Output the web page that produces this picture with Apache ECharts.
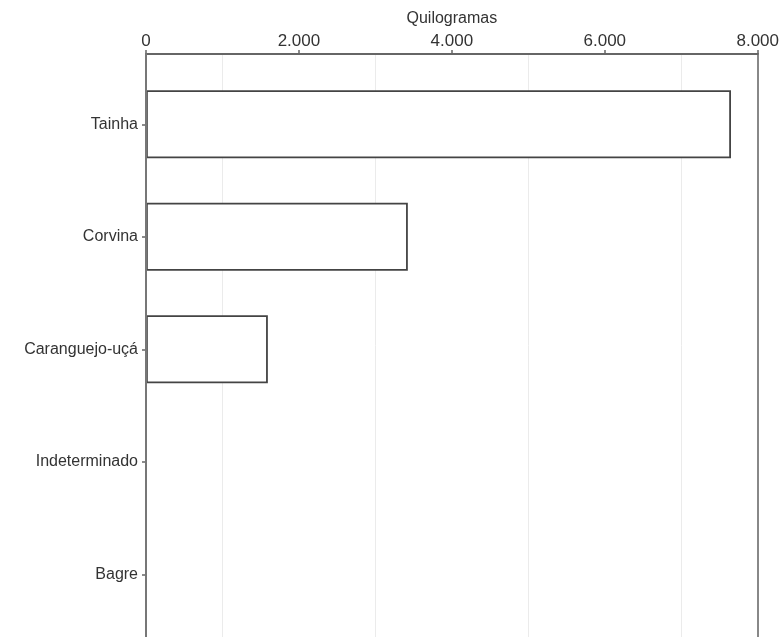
<!DOCTYPE html>
<html>
<head>
<meta charset="utf-8">
<script src="https://cdn.jsdelivr.net/npm/echarts@6/dist/echarts.min.js"></script>
<style>html,body{margin:0;padding:0;background:#fff;overflow:hidden}#c{width:782px;height:637px}</style>
</head>
<body>
<div id="c"></div>
<script>
const categories = ['Tainha', 'Corvina', 'Caranguejo-uçá', 'Indeterminado', 'Bagre'];
const values = [7585, 3395, 1580, 0, 0];
const axisTitle = 'Quilogramas';

function fmt(v) { return String(v).replace(/\B(?=(\d{3})+(?!\d))/g, '.'); }

const chart = echarts.init(document.getElementById('c'), null, { renderer: 'canvas' });
const font = 'Liberation Sans, Arial, sans-serif';
chart.setOption({
  animation: false,
  backgroundColor: '#fff',
  grid: [
    { left: 146, right: 19, top: 54, bottom: -5, containLabel: false },
    { left: 146, right: 19, top: 68, height: 562.5, containLabel: false }
  ],
  xAxis: [
    {
      gridIndex: 0, type: 'value', position: 'top', min: 0, max: 8000, interval: 2000,
      name: axisTitle, nameLocation: 'middle', nameGap: 27,
      nameTextStyle: { fontFamily: font, fontSize: 16, color: '#333' },
      axisLine: { show: true, onZero: false, lineStyle: { color: '#666', width: 2 } },
      axisTick: { show: true, length: 4, lineStyle: { color: '#666', width: 1.5 } },
      axisLabel: { fontFamily: font, fontSize: 17, color: '#333', margin: 4, formatter: v => fmt(v) },
      splitLine: { show: false },
      minorTick: { show: false, splitNumber: 2 },
      minorSplitLine: { show: true, lineStyle: { color: '#ebebeb', width: 1 } }
    },
    { gridIndex: 1, type: 'value', min: 0, max: 8000, show: false }
  ],
  yAxis: [
    {
      gridIndex: 0, type: 'value', min: 0, max: 1, z: 5,
      axisLine: { show: true, onZero: false, lineStyle: { color: '#777', width: 2 } },
      axisTick: { show: false }, axisLabel: { show: false }, splitLine: { show: false }
    },
    {
      gridIndex: 0, type: 'value', min: 0, max: 1, position: 'right',
      axisLine: { show: true, onZero: false, lineStyle: { color: '#888', width: 2 } },
      axisTick: { show: false }, axisLabel: { show: false }, splitLine: { show: false }
    },
    {
      gridIndex: 1, type: 'category', data: categories, inverse: true,
      axisLine: { show: false },
      axisTick: { show: true, alignWithLabel: true, length: 4, lineStyle: { color: '#666', width: 1.5 } },
      axisLabel: { fontFamily: font, fontSize: 16, color: '#333', margin: 8 },
      splitLine: { show: false }
    }
  ],
  series: [{
    type: 'bar', xAxisIndex: 1, yAxisIndex: 2, data: values, barWidth: 68,
    itemStyle: { color: '#fff', borderColor: '#444', borderWidth: 1.8 },
    silent: true
  }]
});
</script>
</body>
</html>
